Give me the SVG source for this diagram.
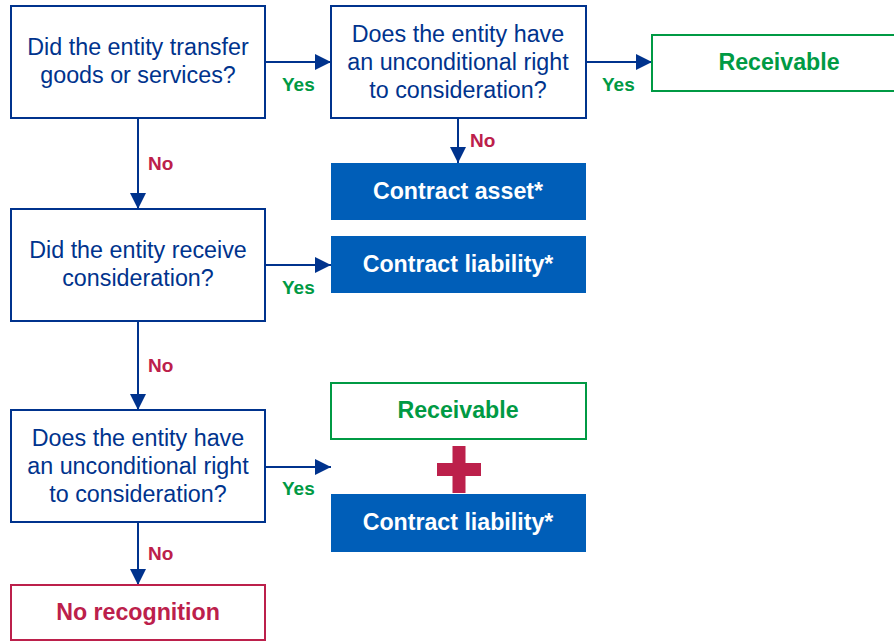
<svg xmlns="http://www.w3.org/2000/svg" width="894" height="641" viewBox="0 0 894 641">
  <style>
    .q { fill: #ffffff; stroke: #00338d; stroke-width: 2; }
    .qt { font-family: "Liberation Sans", Arial, sans-serif; font-size: 23.3px; fill: #00338d; text-anchor: middle; }
    .rec { fill: #ffffff; stroke: #009a44; stroke-width: 2; }
    .rect { font-family: "Liberation Sans", Arial, sans-serif; font-size: 23.2px; font-weight: bold; fill: #009a44; text-anchor: middle; }
    .ca { fill: #005eb8; }
    .cat { font-family: "Liberation Sans", Arial, sans-serif; font-size: 23.2px; font-weight: bold; fill: #ffffff; text-anchor: middle; }
    .nr { fill: #ffffff; stroke: #bc204b; stroke-width: 2; }
    .nrt { font-family: "Liberation Sans", Arial, sans-serif; font-size: 23.2px; font-weight: bold; fill: #bc204b; text-anchor: middle; }
    .conn { stroke: #00338d; stroke-width: 2; fill: none; marker-end: url(#arrow); }
    .yes { font-family: "Liberation Sans", Arial, sans-serif; font-size: 19px; font-weight: bold; fill: #009a44; }
    .no { font-family: "Liberation Sans", Arial, sans-serif; font-size: 19px; font-weight: bold; fill: #bc204b; }
  </style>
  <defs>
    <marker id="arrow" viewBox="0 0 16 16" refX="16" refY="8" markerWidth="16" markerHeight="16" markerUnits="userSpaceOnUse" orient="auto">
      <path d="M0,0 L16,8 L0,16 Z" fill="#00338d"/>
    </marker>
  </defs>

  <!-- connectors -->
  <g id="connectors">
    <line class="conn" x1="265" y1="62" x2="331" y2="62"/>
    <line class="conn" x1="586" y1="62" x2="652" y2="62"/>
    <line class="conn" x1="458" y1="118" x2="458" y2="163"/>
    <line class="conn" x1="138" y1="118" x2="138" y2="209"/>
    <line class="conn" x1="265" y1="265" x2="331" y2="265"/>
    <line class="conn" x1="138" y1="321" x2="138" y2="410"/>
    <line class="conn" x1="265" y1="467" x2="331" y2="467"/>
    <line class="conn" x1="138" y1="522" x2="138" y2="585"/>
    <text class="yes" x="282" y="91">Yes</text>
    <text class="yes" x="602" y="91">Yes</text>
    <text class="no" x="470" y="147">No</text>
    <text class="no" x="148" y="170">No</text>
    <text class="yes" x="282" y="294">Yes</text>
    <text class="no" x="148" y="372">No</text>
    <text class="yes" x="282" y="495">Yes</text>
    <text class="no" x="148" y="560">No</text>
  </g>

  <g id="q-transfer">
    <rect class="q" x="11" y="6" width="254" height="112"/>
    <text class="qt" x="138" y="55">Did the entity transfer</text>
    <text class="qt" x="138" y="83">goods or services?</text>
  </g>

  <g id="q-right-1">
    <rect class="q" x="331" y="6" width="255" height="112"/>
    <text class="qt" x="458" y="42">Does the entity have</text>
    <text class="qt" x="458" y="70">an unconditional right</text>
    <text class="qt" x="458" y="98">to consideration?</text>
  </g>

  <g id="receivable-1">
    <rect class="rec" x="652" y="35" width="256" height="56"/>
    <text class="rect" x="779" y="70">Receivable</text>
  </g>

  <g id="contract-asset">
    <rect class="ca" x="331" y="163" width="255" height="57"/>
    <text class="cat" x="458" y="199">Contract asset*</text>
  </g>

  <g id="q-receive">
    <rect class="q" x="11" y="209" width="254" height="112"/>
    <text class="qt" x="138" y="258">Did the entity receive</text>
    <text class="qt" x="138" y="286">consideration?</text>
  </g>

  <g id="contract-liability-1">
    <rect class="ca" x="331" y="236" width="255" height="57"/>
    <text class="cat" x="458" y="272">Contract liability*</text>
  </g>

  <g id="q-right-2">
    <rect class="q" x="11" y="410" width="254" height="112"/>
    <text class="qt" x="138" y="446">Does the entity have</text>
    <text class="qt" x="138" y="474">an unconditional right</text>
    <text class="qt" x="138" y="502">to consideration?</text>
  </g>

  <g id="receivable-2">
    <rect class="rec" x="331" y="383" width="255" height="56"/>
    <text class="rect" x="458" y="418">Receivable</text>
  </g>

  <g id="plus">
    <rect x="437" y="463" width="44" height="13" fill="#bc204b"/>
    <rect x="452.5" y="446" width="13" height="47" fill="#bc204b"/>
  </g>

  <g id="contract-liability-2">
    <rect class="ca" x="331" y="494" width="255" height="58"/>
    <text class="cat" x="458" y="530">Contract liability*</text>
  </g>

  <g id="no-recognition">
    <rect class="nr" x="11" y="585" width="254" height="55"/>
    <text class="nrt" x="138" y="620">No recognition</text>
  </g>
</svg>
